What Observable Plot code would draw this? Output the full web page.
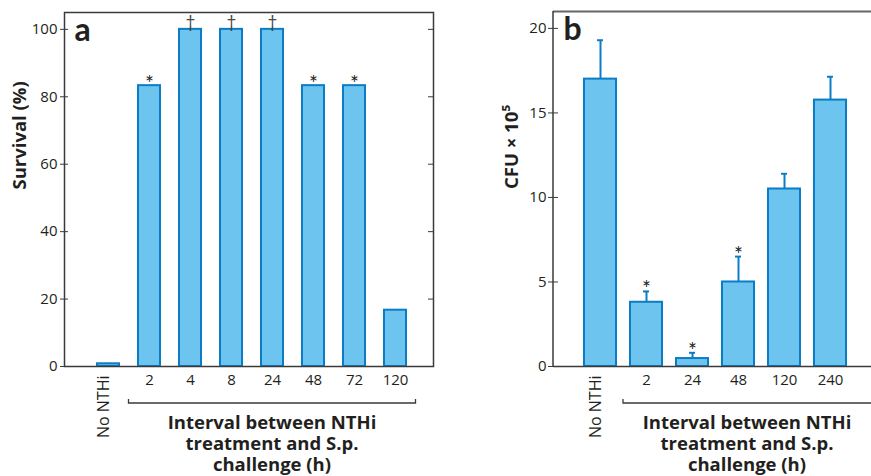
<!DOCTYPE html>
<html><head><meta charset="utf-8">
<script src="https://cdn.jsdelivr.net/npm/d3@7"></script>
<script src="https://cdn.jsdelivr.net/npm/@observablehq/plot@0.6"></script>
<style>
body{margin:0;background:#fff;}
#wrap{display:flex;width:871px;height:476px;overflow:hidden;}
#wrap svg{overflow:visible;}
</style></head><body><div id="wrap"></div>
<script>
// ---- data: panel a (survival) ----
const survivalCategories = ["No NTHi", "2", "4", "8", "24", "48", "72", "120"];
const survivalValues = [0.8, 83.3, 100, 100, 100, 83.3, 83.3, 16.7];
const survivalMarks = ["", "*", "†", "†", "†", "*", "*", ""];
const survivalTicks = [0, 20, 40, 60, 80, 100];

// ---- data: panel b (CFU) ----
const cfuCategories = ["No NTHi", "2", "24", "48", "120", "240"];
const cfuValues = [17.0, 3.8, 0.47, 5.0, 10.5, 15.76];
const cfuErrors = [2.3, 0.64, 0.34, 1.5, 0.9, 1.38];
const cfuMarks = ["", "*", "*", "*", "", ""];
const cfuTicks = [0, 5, 10, 15, 20];

const intervalTitle = ["Interval between NTHi", "treatment and S.p.", "challenge (h)"];
const panelLetters = ["a", "b"];
const yLabels = ["Survival (%)", "CFU × 10⁵"];

const FONT = "'Open Sans', Lato, sans-serif";
const LFONT = "Lato, 'Open Sans', sans-serif";
const INK = "#231f20";
const FILL = "#6dc5ef";
const EDGE = "#0b7dc7";
const AXIS = "#3a3a3a";

const survival = survivalCategories.map((c, i) => ({cat: c, value: survivalValues[i], mark: survivalMarks[i]}));
const cfu = cfuCategories.map((c, i) => ({cat: c, value: cfuValues[i], top: cfuValues[i] + cfuErrors[i], mark: cfuMarks[i]}));

const tickLabel = d => d === "No NTHi" ? "" : d;

function addBracket(chart, firstCat, lastCat, toEdge) {
  const sx = chart.scale("x");
  const sy = chart.scale("y");
  const step = sx.step;
  const bw = sx.bandwidth;
  const c0 = sx.apply(firstCat) + bw / 2;
  const c1 = sx.apply(lastCat) + bw / 2;
  const x0 = c0 - step / 2;
  const x1 = toEdge ? +chart.getAttribute("width") : c1 + step / 2;
  const yb = sy.apply(0) + 37;
  const svg = d3.select(chart);
  const g = svg.append("g").attr("fill", "none").attr("stroke", AXIS).attr("stroke-width", 1.3);
  const path = toEdge
    ? `M${x0},${yb - 4}V${yb}H${x1}`
    : `M${x0},${yb - 4}V${yb}H${x1}V${yb - 4}`;
  g.append("path").attr("d", path);
  const xm = (x0 + x1) / 2;
  const t = svg.append("text")
    .attr("font-family", FONT).attr("font-weight", "bold").attr("font-size", 18.5)
    .attr("fill", INK).attr("text-anchor", "middle");
  intervalTitle.forEach((line, i) => {
    t.append("tspan").attr("x", xm).attr("y", yb + 26 + i * 21).text(line);
  });
}

const markText = (data, yKey) => [
  Plot.text(data.filter(d => d.mark === "*"), {x: "cat", y: yKey, text: "mark", lineAnchor: "bottom", dy: 5, fontSize: 21, fontFamily: LFONT, fill: INK}),
  Plot.text(data.filter(d => d.mark === "†"), {x: "cat", y: yKey, text: "mark", lineAnchor: "bottom", dy: -1, fontSize: 17, fontFamily: LFONT, fill: "#444"})
];

// ---------- Panel a ----------
const chartA = Plot.plot({
  width: 440, height: 476,
  marginLeft: 64, marginRight: 7, marginTop: 12, marginBottom: 110,
  style: {fontFamily: FONT, fontSize: "15px", color: INK, background: "white", overflow: "visible"},
  x: {domain: survivalCategories, paddingInner: 0.47, paddingOuter: 0.235, insetLeft: 21, insetRight: 16},
  y: {domain: [0, 105]},
  marks: [
    Plot.barY(survival, {x: "cat", y: "value", fill: FILL, stroke: EDGE, strokeWidth: 2}),
    Plot.frame({stroke: AXIS, strokeWidth: 1.5}),
    Plot.axisY({ticks: survivalTicks, anchor: "left", tickSize: 4, tickPadding: 3, label: null, fontSize: 15, stroke: AXIS}),
    Plot.axisY({ticks: survivalTicks, anchor: "left", tickSize: -4, text: null, label: null, stroke: AXIS}),
    Plot.axisY({ticks: survivalTicks, anchor: "right", tickSize: -6, text: null, label: null, stroke: AXIS}),
    Plot.axisX({tickSize: 0, tickPadding: 8, tickFormat: tickLabel, label: null, fontSize: 15}),
    Plot.text(["No NTHi"], {x: d => d, frameAnchor: "bottom", rotate: -90, textAnchor: "end", dy: 9, fontSize: 16, fill: INK}),
    ...markText(survival, "value"),
    Plot.text([panelLetters[0]], {frameAnchor: "top-left", textAnchor: "start", lineAnchor: "top", dx: 10, dy: 6, fontSize: 32, fontWeight: "bold", fontFamily: LFONT, fill: INK}),
    Plot.text([yLabels[0]], {frameAnchor: "left", rotate: -90, dx: -44, fontSize: 18.5, fontWeight: "bold", fill: INK})
  ]
});

// ---------- Panel b ----------
const chartB = Plot.plot({
  width: 431, height: 476,
  marginLeft: 113, marginRight: 0, marginTop: 11, marginBottom: 110,
  style: {fontFamily: FONT, fontSize: "15px", color: INK, background: "white", overflow: "visible"},
  x: {domain: cfuCategories, paddingInner: 0.3, paddingOuter: 0.15, insetLeft: 23, insetRight: 16},
  y: {domain: [0, 21]},
  marks: [
    Plot.ruleX(cfu, {x: "cat", y1: "value", y2: "top", stroke: EDGE, strokeWidth: 2}),
    Plot.tickY(cfu, {x: "cat", y: "top", stroke: EDGE, strokeWidth: 2, insetLeft: 13, insetRight: 13}),
    Plot.barY(cfu, {x: "cat", y: "value", fill: FILL, stroke: EDGE, strokeWidth: 2}),
    Plot.ruleY([0], {stroke: AXIS, strokeWidth: 1.5}),
    Plot.ruleY([21], {stroke: "#666", strokeWidth: 2}),
    Plot.axisY({ticks: cfuTicks, anchor: "left", tickSize: 5, tickPadding: 2, label: null, fontSize: 15, stroke: AXIS}),
    Plot.axisY({ticks: cfuTicks, anchor: "left", tickSize: -5, text: null, label: null, stroke: AXIS}),
    Plot.axisX({tickSize: 0, tickPadding: 8, tickFormat: tickLabel, label: null, fontSize: 15}),
    Plot.text(["No NTHi"], {x: d => d, frameAnchor: "bottom", rotate: -90, textAnchor: "end", dy: 9, fontSize: 16, fill: INK}),
    ...markText(cfu, "top"),
    Plot.text([panelLetters[1]], {frameAnchor: "top-left", textAnchor: "start", lineAnchor: "top", dx: 10, dy: 6, fontSize: 32, fontWeight: "bold", fontFamily: LFONT, fill: INK}),
    Plot.text([yLabels[1]], {frameAnchor: "left", rotate: -90, dx: -41, fontSize: 18.5, fontWeight: "bold", fill: INK})
  ]
});

// left frame line of panel b from the y scale
{
  const sy = chartB.scale("y");
  const x0 = 113;
  d3.select(chartB).append("line")
    .attr("x1", x0).attr("x2", x0)
    .attr("y1", sy.apply(0)).attr("y2", sy.apply(21))
    .attr("stroke", AXIS).attr("stroke-width", 1.5);
}

addBracket(chartA, "2", "120", false);
addBracket(chartB, "2", "240", true);

document.getElementById("wrap").append(chartA, chartB);
</script>
</body></html>
